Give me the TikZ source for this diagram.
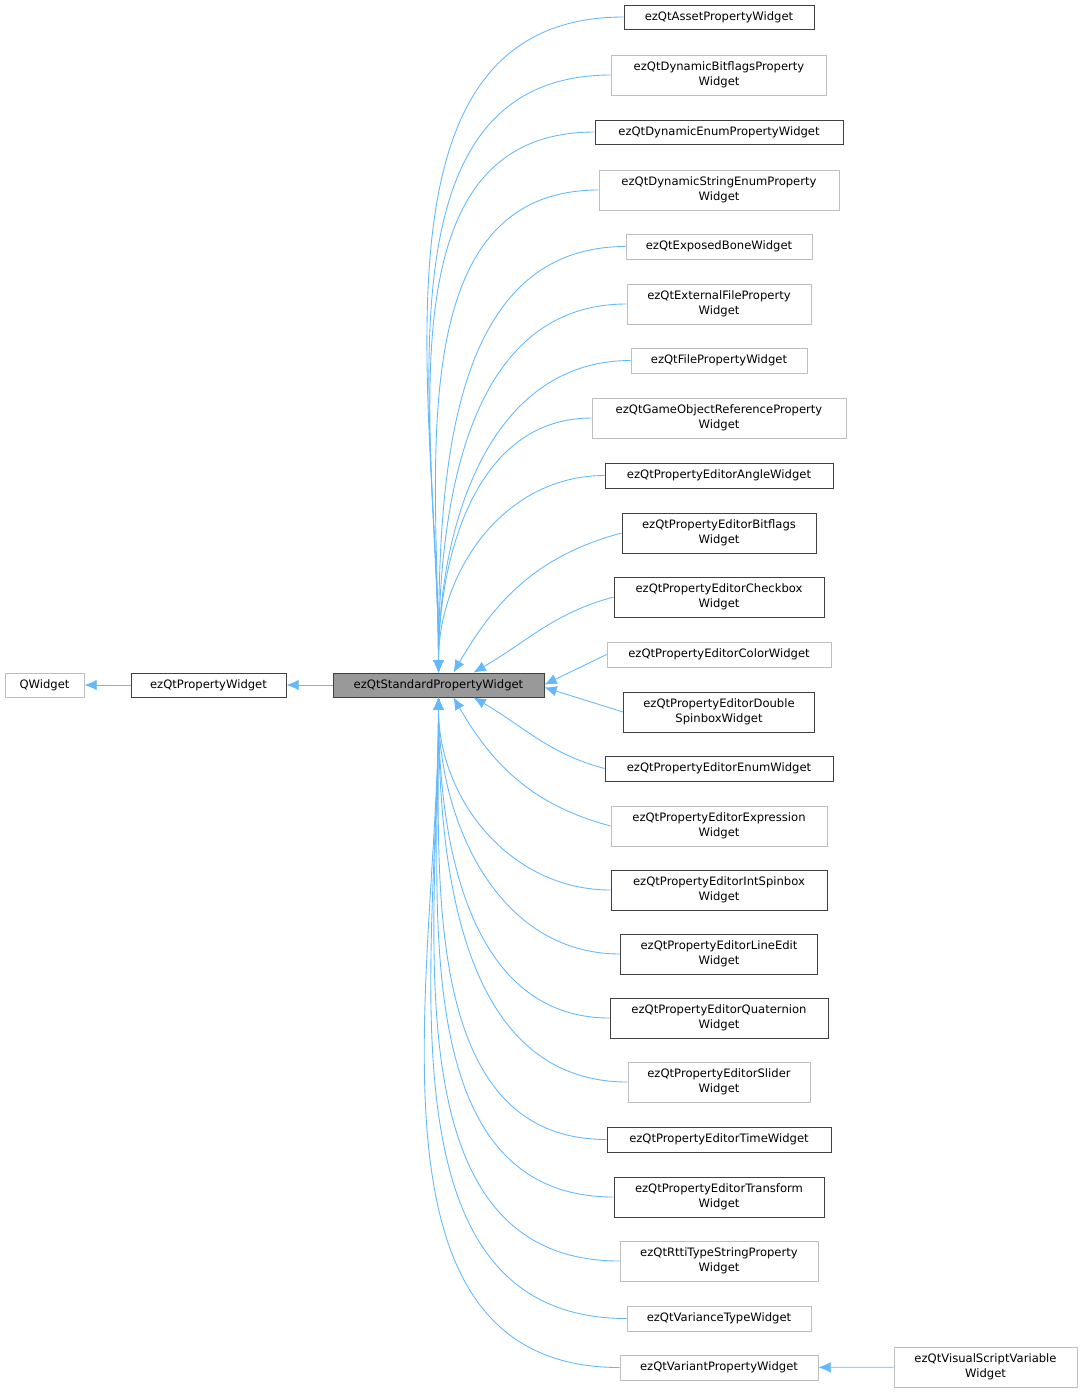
\documentclass[tikz,border=0pt]{standalone}
\usepackage{fontspec}
\setmainfont{DejaVu Sans}
\usetikzlibrary{positioning,arrows.meta,calc}
\definecolor{edgeblue}{HTML}{63B8FF}
\definecolor{darkline}{HTML}{404040}
\definecolor{lightline}{HTML}{BFBFBF}
\definecolor{basefill}{HTML}{999999}
\newcommand\cls[7]{\node[#6,minimum width=#4*0.02cm,minimum height=#5*0.02cm] (#1) at (#2,#3) {#7};}
\begin{document}
\begin{tikzpicture}[x=0.02cm,y=-0.02cm,
  box/.style={draw,rectangle,inner sep=0pt,align=center,font=\fontsize{6.6}{8.4}\selectfont,line width=0.5pt},
  dark/.style={box,draw=darkline},
  light/.style={box,draw=lightline},
  base/.style={box,draw=darkline,fill=basefill},
  edge/.style={edgeblue,line width=0.5pt,-{Latex[length=7pt,width=6pt]}}]
\useasboundingbox (0,0) rectangle (1083,1394);
\cls{qw}{44.5}{685}{79}{24}{light}{QWidget}
\cls{pw}{208.5}{685}{155}{24}{dark}{ezQtPropertyWidget}
\cls{std}{438.5}{685}{211}{24}{base}{ezQtStandardPropertyWidget}
\cls{c1}{719}{17}{190}{24}{dark}{ezQtAssetPropertyWidget}
\cls{c2}{719}{75}{215}{40}{light}{ezQtDynamicBitflagsProperty\\Widget}
\cls{c3}{719}{132}{248}{24}{dark}{ezQtDynamicEnumPropertyWidget}
\cls{c4}{719}{190}{240}{40}{light}{ezQtDynamicStringEnumProperty\\Widget}
\cls{c5}{719}{246.5}{186}{25}{light}{ezQtExposedBoneWidget}
\cls{c6}{719}{304}{184}{40}{light}{ezQtExternalFileProperty\\Widget}
\cls{c7}{719}{360.5}{176}{25}{light}{ezQtFilePropertyWidget}
\cls{c8}{719}{418}{254}{40}{light}{ezQtGameObjectReferenceProperty\\Widget}
\cls{c9}{719}{475.5}{228}{25}{dark}{ezQtPropertyEditorAngleWidget}
\cls{c10}{719}{533}{194}{40}{dark}{ezQtPropertyEditorBitflags\\Widget}
\cls{c11}{719}{597}{210}{40}{dark}{ezQtPropertyEditorCheckbox\\Widget}
\cls{c12}{719}{654.5}{224}{25}{light}{ezQtPropertyEditorColorWidget}
\cls{c13}{719}{712}{191}{40}{dark}{ezQtPropertyEditorDouble\\SpinboxWidget}
\cls{c14}{719}{768.5}{228}{25}{dark}{ezQtPropertyEditorEnumWidget}
\cls{c15}{719}{826}{216}{40}{light}{ezQtPropertyEditorExpression\\Widget}
\cls{c16}{719}{890}{216}{40}{dark}{ezQtPropertyEditorIntSpinbox\\Widget}
\cls{c17}{719}{954}{197}{40}{dark}{ezQtPropertyEditorLineEdit\\Widget}
\cls{c18}{719}{1018}{218}{40}{dark}{ezQtPropertyEditorQuaternion\\Widget}
\cls{c19}{719}{1082}{182}{40}{light}{ezQtPropertyEditorSlider\\Widget}
\cls{c20}{719}{1139.5}{224}{25}{dark}{ezQtPropertyEditorTimeWidget}
\cls{c21}{719}{1197}{210}{40}{dark}{ezQtPropertyEditorTransform\\Widget}
\cls{c22}{719}{1261}{198}{40}{light}{ezQtRttiTypeStringProperty\\Widget}
\cls{c23}{719}{1318.5}{184}{25}{light}{ezQtVarianceTypeWidget}
\cls{c24}{719}{1367.5}{198}{25}{light}{ezQtVariantPropertyWidget}
\cls{c25}{985.5}{1367}{183}{40}{light}{ezQtVisualScriptVariable\\Widget}
% inheritance
\draw[edge] (pw) -- (qw);
\draw[edge] (std) -- (pw);
\draw[edge] (c25) -- (c24);
\foreach \c in {c1,c2,c3,c4,c5,c6,c7,c8,c9}
  \draw[edge] (\c.west) to[out=180,in=90] (std.north);
\draw[edge] (c10.west) to[out=195,in=60] ($(std.north)+(15,0)$);
\draw[edge] (c11.west) to[out=195,in=30] ($(std.north)+(35,0)$);
\draw[edge] (c12.west) -- ($(std.north east)+(0,12)$);
\draw[edge] (c13.west) -- ($(std.south east)+(0,-10)$);
\draw[edge] (c14.west) to[out=165,in=-30] ($(std.south)+(35,0)$);
\draw[edge] (c15.west) to[out=165,in=-60] ($(std.south)+(15,0)$);
\foreach \c in {c16,c17,c18,c19,c20,c21,c22,c23,c24}
  \draw[edge] (\c.west) to[out=180,in=-90] (std.south);
\end{tikzpicture}
\end{document}
